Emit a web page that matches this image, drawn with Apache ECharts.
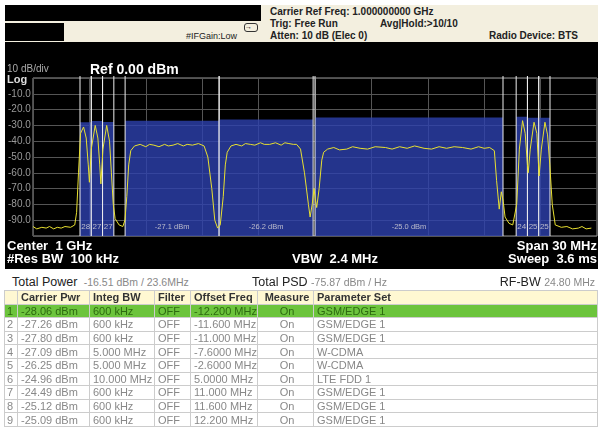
<!DOCTYPE html>
<html><head><meta charset="utf-8">
<script src="https://cdn.jsdelivr.net/npm/echarts@6/dist/echarts.min.js"></script>
<style>
body{margin:0;width:603px;height:437px;background:#fff;font-family:"Liberation Sans",Arial,sans-serif;position:relative;overflow:hidden}
.a{position:absolute;white-space:nowrap}
#chart{position:absolute;left:5px;top:42px;width:593px;height:226px}
table{position:absolute;left:4px;top:290px;width:594px;border-collapse:collapse;font-size:11px;color:#888;table-layout:fixed}
td,th{border:1px solid #ccc;height:12.6px;padding:0 0 0 3px;text-align:left;line-height:12px;overflow:hidden;white-space:nowrap}
th{background:#fff8d2;color:#333;font-weight:bold;font-size:11px}
tr.sel td{background:#6cc43c;color:#2d6a10}
td.c,th.c{text-align:center}
</style></head><body>
<div class="a" style="left:5px;top:5px;width:256px;height:16px;background:#000"></div>
<div class="a" style="left:261px;top:5px;width:337px;height:37px;background:#f3efdf"></div>
<div class="a" style="left:5px;top:21px;width:256px;height:21px;background:#f3efdf"></div>
<div class="a" style="left:5px;top:23px;width:59px;height:18px;background:#000"></div>
<div class="a" style="left:186px;top:31px;font-size:9px;color:#222">#IFGain:Low</div>
<div class="a" style="left:244px;top:23px;width:12px;height:7px;border:1px solid #333;border-radius:3px;font-size:7px;line-height:6px">&#8594;</div>
<div class="a" style="left:270px;top:6px;font-size:10px;color:#222;font-weight:bold">Carrier Ref Freq: 1.000000000 GHz</div>
<div class="a" style="left:270px;top:18px;font-size:10px;color:#222;font-weight:bold">Trig: Free Run</div>
<div class="a" style="left:380px;top:18px;font-size:10px;color:#222;font-weight:bold">Avg|Hold:&gt;10/10</div>
<div class="a" style="left:270px;top:30px;font-size:10px;color:#222;font-weight:bold">Atten: 10 dB (Elec 0)</div>
<div class="a" style="left:489px;top:30px;font-size:10px;color:#222;font-weight:bold">Radio Device: BTS</div>
<div class="a" style="left:5px;top:42px;width:593px;height:227px;background:#000"></div>
<div id="chart"></div>
<div class="a" style="left:7px;top:63px;font-size:10px;color:#aaa">10 dB/div</div>
<div class="a" style="left:90px;top:61px;font-size:14px;color:#fff;font-weight:bold">Ref 0.00 dBm</div>
<div class="a" style="left:7px;top:73px;font-size:11px;color:#ddd;font-weight:bold">Log</div>
<div class="a" style="left:7px;top:238px;font-size:13px;color:#fff;font-weight:bold">Center&nbsp; 1 GHz</div>
<div class="a" style="left:7px;top:251px;font-size:13px;color:#fff;font-weight:bold">#Res BW&nbsp; 100 kHz</div>
<div class="a" style="left:292px;top:251px;font-size:13px;color:#fff;font-weight:bold">VBW&nbsp; 2.4 MHz</div>
<div class="a" style="right:6px;top:238px;font-size:13px;color:#fff;font-weight:bold">Span 30 MHz</div>
<div class="a" style="right:6px;top:251px;font-size:13px;color:#fff;font-weight:bold">Sweep&nbsp; 3.6 ms</div>
<div class="a" style="left:12px;top:275px;font-size:12.5px;color:#222">Total Power <span style="font-size:10.5px;color:#888">&nbsp;-16.51 dBm / 23.6MHz</span></div>
<div class="a" style="left:252px;top:275px;font-size:12.5px;color:#222">Total PSD <span style="font-size:10.5px;color:#888">-75.87 dBm / Hz</span></div>
<div class="a" style="right:8px;top:275px;font-size:12.5px;color:#222">RF-BW <span style="font-size:10.5px;color:#888">24.80 MHz</span></div>
<table id="tbl"></table>
<script>
// trace (offset MHz, dBm)
var traceF=[-15.0,-14.8,-14.53,-14.3,-14.12,-13.9,-13.71,-13.5,-13.30,-13.0,-12.78,-12.68,-12.58,-12.47,-12.31,-12.17,-12.06,-12.00,-11.90,-11.69,-11.55,-11.45,-11.39,-11.28,-11.08,-10.93,-10.83,-10.73,-10.63,-10.42,-10.22,-10.11,-10.01,-9.91,-9.80,-9.60,-9.3,-9.0,-8.8,-8.57,-8.3,-8.0,-7.8,-7.55,-7.3,-7.0,-6.8,-6.52,-6.2,-5.90,-5.70,-5.49,-5.33,-5.18,-5.04,-4.88,-4.77,-4.67,-4.47,-4.2,-3.9,-3.7,-3.44,-3.2,-2.9,-2.7,-2.41,-2.1,-1.8,-1.6,-1.39,-1.15,-0.98,-0.77,-0.56,-0.35,-0.26,-0.15,-0.05,0.01,0.09,0.22,0.36,0.46,0.67,1.0,1.3,1.69,2.0,2.4,2.8,3.2,3.75,4.1,4.5,4.9,5.3,5.80,6.2,6.6,7.0,7.4,7.85,8.3,8.7,9.0,9.29,9.54,9.66,9.80,9.91,10.01,10.11,10.32,10.52,10.73,10.87,11.04,11.18,11.30,11.34,11.45,11.65,11.80,11.92,12.04,12.23,12.37,12.49,12.62,12.78,13.1,13.40,13.7,14.01,14.2,14.42,14.7,15.0];
var traceP=[-94,-95.5,-94.5,-95,-94,-95.5,-94.5,-95,-94,-94.5,-93,-85,-60,-35,-31,-38,-55,-66,-45,-30,-38,-55,-67,-45,-30,-40,-60,-80,-89,-93,-94,-90,-75,-55,-46,-43,-42,-43.5,-42,-42.5,-43.5,-42,-43,-42.5,-41.5,-43,-42,-42.5,-41.5,-43,-50,-70,-90,-95,-93,-75,-55,-47,-43,-42,-43,-41.5,-42,-42.5,-41,-42,-42,-41,-42.5,-41,-41.5,-42,-42,-45,-60,-80,-88,-80,-70,-76,-82,-70,-52,-47,-45,-44,-45.5,-45,-43.5,-44.5,-45,-43.5,-44,-45,-43.5,-44.5,-43,-44.5,-45,-43.5,-44.5,-43.5,-44,-45,-43.5,-44.5,-44,-46,-65,-83,-72,-78,-88,-92,-93,-80,-45,-27,-35,-55,-60,-45,-28,-35,-62,-45,-28,-36,-55,-80,-93,-94.5,-94,-95.5,-95,-94,-95.5,-95];
// carriers
var carrierPwr=[-28.06,-27.26,-27.80,-27.09,-26.25,-24.96,-24.49,-25.12,-25.09];
var integBW=[0.6,0.6,0.6,5,5,10,0.6,0.6,0.6];
var offsetFreq=[-12.2,-11.6,-11.0,-7.6,-2.6,5.0,11.0,11.6,12.2];
var boxLabels=["28","27","27","-27.1 dBm","-26.2 dBm","-25.0 dBm","24","25","25"];
var colCarrier=["-28.06 dBm","-27.26 dBm","-27.80 dBm","-27.09 dBm","-26.25 dBm","-24.96 dBm","-24.49 dBm","-25.12 dBm","-25.09 dBm"];
var colBW=["600 kHz","600 kHz","600 kHz","5.000 MHz","5.000 MHz","10.000 MHz","600 kHz","600 kHz","600 kHz"];
var colOffset=["-12.200 MHz","-11.600 MHz","-11.000 MHz","-7.6000 MHz","-2.6000 MHz","5.0000 MHz","11.000 MHz","11.600 MHz","12.200 MHz"];
var colParam=["GSM/EDGE 1","GSM/EDGE 1","GSM/EDGE 1","W-CDMA","W-CDMA","LTE FDD 1","GSM/EDGE 1","GSM/EDGE 1","GSM/EDGE 1"];
var yTicks=["-10.0","-20.0","-30.0","-40.0","-50.0","-60.0","-70.0","-80.0","-90.0"];

var h='<colgroup><col style="width:13px"><col style="width:72px"><col style="width:65px"><col style="width:36px"><col style="width:67px"><col style="width:56px"><col></colgroup>';
h+='<tr><th></th><th>Carrier Pwr</th><th>Integ BW</th><th>Filter</th><th>Offset Freq</th><th class="c">Measure</th><th>Parameter Set</th></tr>';
for(var i=0;i<9;i++){h+='<tr'+(i==0?' class="sel"':'')+'><td style="padding-left:2px">'+(i+1)+'</td><td>'+colCarrier[i]+'</td><td>'+colBW[i]+'</td><td>OFF</td><td>'+colOffset[i]+'</td><td class="c">On</td><td>'+colParam[i]+'</td></tr>';}
document.getElementById('tbl').innerHTML=h;

var boxes=offsetFreq.map(function(f,i){return [f-integBW[i]/2,f+integBW[i]/2,carrierPwr[i],i];});
var chart=echarts.init(document.getElementById('chart'));
chart.setOption({
 animation:false,
 grid:{left:27,top:36,width:565,height:158,show:true,borderColor:'#999',borderWidth:1,backgroundColor:'#000'},
 xAxis:{type:'value',min:-15,max:15,interval:3,axisLabel:{show:false},axisTick:{show:false},axisLine:{show:false},splitLine:{lineStyle:{color:'#555',width:1}}},
 yAxis:{type:'value',min:-100,max:0,interval:10,axisLine:{show:false},axisTick:{show:false},splitLine:{lineStyle:{color:'#555',width:1}},
  axisLabel:{align:'left',margin:25,verticalAlign:'middle',padding:[0,0,3,0],color:'#999',fontSize:10,formatter:function(v){var k=Math.round(-v/10);return (k>=1&&k<=9)?yTicks[k-1]:'';}}},
 series:[
  {type:'custom',data:boxes,z:1,renderItem:function(p,api){
    var x0=api.value(0),x1=api.value(1),t=api.value(2),i=api.value(3);
    var a=api.coord([x0,t]),b=api.coord([x1,-100]),top=api.coord([x0,0]);
    var big=integBW[i]>1;
    return {type:'group',children:[
     {type:'rect',shape:{x:a[0],y:a[1],width:b[0]-a[0],height:b[1]-a[1]},style:{fill:'rgba(45,65,175,0.8)'}},
     {type:'line',shape:{x1:a[0],y1:top[1]-2,x2:a[0],y2:b[1]},style:{stroke:'#eee',lineWidth:1}},
     {type:'line',shape:{x1:b[0],y1:top[1]-2,x2:b[0],y2:b[1]},style:{stroke:'#eee',lineWidth:1}},
     {type:'text',x:(a[0]+b[0])/2,y:b[1]-5,style:{text:boxLabels[i],fill:'#bbc',fontSize:big?7.5:8,align:'center',verticalAlign:'bottom'}}
    ]};
  }},
  {type:'line',z:3,symbol:'none',data:traceF.map(function(f,i){return [f,traceP[i]];}),lineStyle:{color:'#e8e030',width:1}}
 ]
});
</script></body></html>
